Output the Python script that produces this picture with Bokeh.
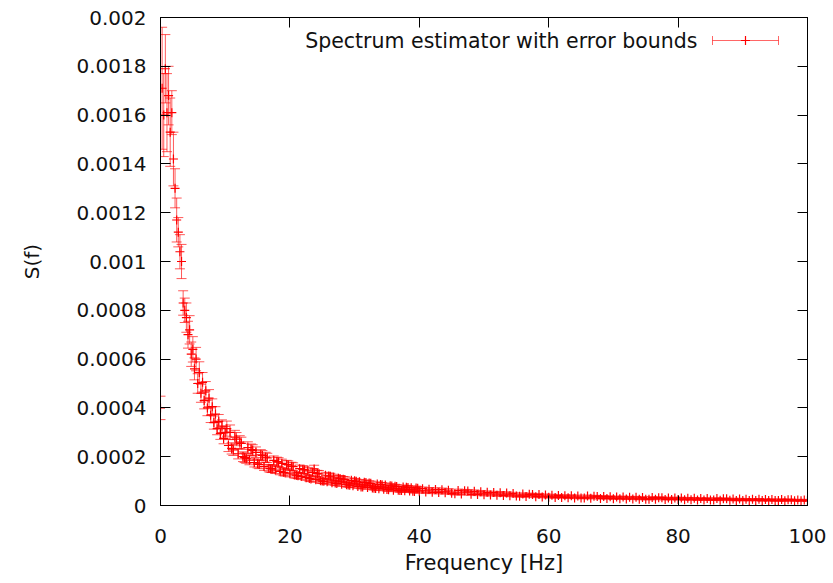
from bokeh.plotting import figure
from bokeh.models import (ColumnDataSource, Whisker, TeeHead, Range1d, FixedTicker,
                          LinearAxis, Label, Arrow)
from bokeh.embed import file_html
from bokeh.resources import INLINE

FONT = "DejaVu Sans"

# Frequency [Hz]
freq = [0, 0.25, 0.5, 0.75, 1, 1.25, 1.5, 1.75, 2, 2.25,
        2.5, 2.75, 3, 3.25, 3.5, 3.75, 4, 4.25, 4.5, 4.75,
        5, 5.25, 5.5, 5.75, 6, 6.25, 6.5, 6.75, 7, 7.25,
        7.5, 7.75, 8, 8.25, 8.5, 8.75, 9, 9.25, 9.5, 9.75, 10,
        10.25, 10.5, 10.75, 11, 11.25, 11.5, 11.75, 12,
        12.25, 12.5, 12.75, 13, 13.25, 13.5, 13.75, 14,
        14.25, 14.5, 14.75, 15, 15.25, 15.5, 15.75, 16,
        16.25, 16.5, 16.75, 17, 17.25, 17.5, 17.75, 18,
        18.25, 18.5, 18.75, 19, 19.25, 19.5, 19.75, 20,
        20.25, 20.5, 20.75, 21, 21.25, 21.5, 21.75, 22,
        22.25, 22.5, 22.75, 23, 23.25, 23.5, 23.75, 24,
        24.25, 24.5, 24.75, 25, 25.25, 25.5, 25.75, 26,
        26.25, 26.5, 26.75, 27, 27.25, 27.5, 27.75, 28,
        28.25, 28.5, 28.75, 29, 29.25, 29.5, 29.75, 30,
        30.25, 30.5, 30.75, 31, 31.25, 31.5, 31.75, 32,
        32.25, 32.5, 32.75, 33, 33.25, 33.5, 33.75, 34,
        34.25, 34.5, 34.75, 35, 35.25, 35.5, 35.75, 36,
        36.25, 36.5, 36.75, 37, 37.25, 37.5, 37.75, 38,
        38.25, 38.5, 38.75, 39, 39.25, 39.5, 39.75, 40,
        40.5, 41, 41.5, 42, 42.5, 43, 43.5, 44, 44.5, 45,
        45.5, 46, 46.5, 47, 47.5, 48, 48.5, 49, 49.5, 50,
        50.5, 51, 51.5, 52, 52.5, 53, 53.5, 54, 54.5, 55,
        55.5, 56, 56.5, 57, 57.5, 58, 58.5, 59, 59.5, 60,
        60.5, 61, 61.5, 62, 62.5, 63, 63.5, 64, 64.5, 65,
        65.5, 66, 66.5, 67, 67.5, 68, 68.5, 69, 69.5, 70,
        70.5, 71, 71.5, 72, 72.5, 73, 73.5, 74, 74.5, 75,
        75.5, 76, 76.5, 77, 77.5, 78, 78.5, 79, 79.5, 80,
        80.5, 81, 81.5, 82, 82.5, 83, 83.5, 84, 84.5, 85,
        85.5, 86, 86.5, 87, 87.5, 88, 88.5, 89, 89.5, 90,
        90.5, 91, 91.5, 92, 92.5, 93, 93.5, 94, 94.5, 95,
        95.5, 96, 96.5, 97, 97.5, 98, 98.5, 99, 99.5, 100]

# Spectrum estimate S(f), in units of 1e-6
spectrum_micro = [400, 1710, 1600, 1790, 1610, 1680, 1530, 1610, 1420, 1300,
                  1170, 1120, 1040, 1000, 830, 800, 770, 700, 720, 620,
                  640, 560, 600, 500, 545, 460, 505, 430, 470, 400,
                  440, 370, 405, 340, 375, 315, 345, 295, 325, 275, 300,
                  315, 246, 300, 234, 228, 280, 272, 212,
                  260, 255, 200, 196, 192, 237, 186, 229,
                  226, 176, 218, 171, 168, 208, 205, 160,
                  198, 195, 153, 151, 150, 185, 145, 180,
                  178, 140, 173, 136, 134, 168, 166, 130,
                  161, 159, 125, 124, 122, 151, 119, 148,
                  146, 114, 142, 111, 109, 136, 150, 106,
                  131, 130, 101, 100, 99, 124, 97, 121,
                  120, 93, 116, 92, 90, 112, 111, 87,
                  108, 107, 85, 84, 83, 103, 81, 101,
                  99, 78, 97, 76, 76, 95, 94, 74,
                  92, 91, 72, 71, 70, 88, 69, 86,
                  85, 67, 84, 66, 65, 81, 80, 63,
                  79, 78, 62, 61, 61, 76, 60, 75,
                  74, 59, 73, 58, 57, 72, 71, 56,
                  69, 55, 67, 54, 66, 53, 65, 52, 63, 50,
                  48, 61, 47, 60, 59, 46, 58, 45, 56, 44,
                  54, 43, 53, 42, 52, 41, 51, 40, 49, 39,
                  38, 47, 37, 46, 45, 36, 45, 35, 43, 34,
                  42, 33, 41, 33, 40, 32, 40, 31, 39, 31,
                  31, 39, 30, 38, 37, 29, 37, 29, 36, 28,
                  35, 28, 35, 27, 34, 27, 34, 26, 33, 26,
                  26, 33, 26, 32, 32, 25, 31, 25, 31, 25,
                  31, 24, 30, 24, 30, 23, 29, 23, 29, 23,
                  23, 29, 22, 28, 28, 22, 27, 21, 27, 21,
                  26, 21, 26, 21, 26, 20, 25, 20, 25, 20,
                  20, 25, 19, 24, 24, 19, 23, 19, 23, 19]

# Error bound half-widths, in units of 1e-6
error_micro = [48, 250, 170, 140, 160, 120, 140, 90, 110, 80,
               90, 60, 70, 70, 50, 50, 60, 55, 58, 50,
               52, 45, 48, 40, 44, 37, 40, 34, 38, 32,
               35, 30, 32, 27, 30, 25, 28, 24, 26, 22, 24,
               31, 25, 30, 23, 23, 28, 27, 21,
               26, 25, 20, 20, 19, 24, 19, 23,
               23, 18, 22, 17, 17, 21, 20, 16,
               20, 19, 15, 15, 15, 18, 14, 18,
               18, 14, 17, 14, 13, 17, 17, 13,
               16, 16, 12, 12, 12, 15, 12, 15,
               15, 11, 14, 11, 11, 14, 15, 11,
               13, 13, 10, 10, 10, 12, 10, 12,
               12, 9, 12, 9, 9, 11, 11, 9,
               11, 11, 8.5, 8.4, 8.3, 10, 8.1, 10,
               9.9, 7.8, 9.7, 7.6, 7.6, 9.5, 9.4, 7.4,
               9.2, 9.1, 7.2, 7.1, 7.0, 8.8, 6.9, 8.6,
               8.5, 6.7, 8.4, 6.6, 6.5, 8.1, 8.0, 6.3,
               7.9, 7.8, 6.2, 6.1, 6.1, 7.6, 6.0, 7.5,
               7.4, 5.9, 7.3, 5.8, 5.7, 7.2, 7.1, 5.6,
               6.9, 5.5, 6.7, 5.4, 6.6, 5.3, 6.5, 5.2, 6.3, 5.0,
               4.8, 6.1, 4.7, 6.0, 5.9, 4.6, 5.8, 4.5, 5.6, 4.4,
               5.4, 4.3, 5.3, 4.2, 5.2, 4.1, 5.1, 4.0, 4.9, 3.9,
               3.8, 4.7, 3.7, 4.6, 4.5, 3.6, 4.5, 3.5, 4.3, 3.4,
               4.2, 3.3, 4.1, 3.3, 4.0, 3.2, 4.0, 3.1, 3.9, 3.1,
               3.1, 3.9, 3.0, 3.8, 3.7, 2.9, 3.7, 2.9, 3.6, 2.8,
               3.5, 2.8, 3.5, 2.7, 3.4, 2.7, 3.4, 2.6, 3.3, 2.6,
               2.6, 3.3, 2.6, 3.2, 3.2, 2.5, 3.1, 2.5, 3.1, 2.5,
               3.1, 2.4, 3.0, 2.4, 3.0, 2.3, 2.9, 2.3, 2.9, 2.3,
               2.3, 2.9, 2.2, 2.8, 2.8, 2.2, 2.7, 2.1, 2.7, 2.1,
               2.6, 2.1, 2.6, 2.1, 2.6, 2.0, 2.5, 2.0, 2.5, 2.0,
               2.0, 2.5, 1.9, 2.4, 2.4, 1.9, 2.3, 1.9, 2.3, 1.9]

x_ticks = [0, 20, 40, 60, 80, 100]
y_ticks = [0, 0.0002, 0.0004, 0.0006, 0.0008, 0.001,
           0.0012, 0.0014, 0.0016, 0.0018, 0.002]
y_tick_labels = ["0", "0.0002", "0.0004", "0.0006", "0.0008", "0.001",
                 "0.0012", "0.0014", "0.0016", "0.0018", "0.002"]

legend_text = "Spectrum estimator with error bounds"
x_title = "Frequency [Hz]"
y_title = "S(f)"

spec = [v * 1e-6 for v in spectrum_micro]
err = [e * 1e-6 for e in error_micro]
src = ColumnDataSource(dict(
    f=freq, s=spec,
    lo=[s - e for s, e in zip(spec, err)],
    hi=[s + e for s, e in zip(spec, err)],
))

p = figure(width=833, height=583, x_range=Range1d(0, 100), y_range=Range1d(0, 0.002),
           output_backend="svg", toolbar_location=None,
           min_border_left=160, min_border_right=26, min_border_top=17, min_border_bottom=78)
p.background_fill_color = "white"
p.border_fill_color = "white"
p.outline_line_color = "black"
p.outline_line_width = 1
p.xgrid.visible = False
p.ygrid.visible = False

RED = "#ff0000"
whisk = Whisker(source=src, base="f", upper="hi", lower="lo", dimension="height",
                line_color=RED, line_alpha=0.65, line_width=1,
                upper_head=TeeHead(size=10, line_color=RED, line_alpha=0.65, line_width=1),
                lower_head=TeeHead(size=10, line_color=RED, line_alpha=0.65, line_width=1))
p.add_layout(whisk)
p.scatter("f", "s", source=src, marker="cross", size=9, line_color=RED, line_width=1.2)


def style_axis(ax, ticks, show_labels):
    ax.ticker = FixedTicker(ticks=ticks)
    ax.axis_line_color = "black"
    ax.axis_line_width = 1
    ax.major_tick_line_color = "black"
    ax.major_tick_line_width = 1
    ax.major_tick_in = 10
    ax.major_tick_out = 0
    ax.minor_tick_line_color = None
    ax.major_label_text_font = FONT
    if show_labels:
        ax.major_label_text_font_size = "20px"
        ax.major_label_text_color = "#111111"
    else:
        ax.major_label_text_font_size = "2px"
        ax.major_label_text_color = None
        ax.major_label_standoff = 0


xa = p.xaxis[0]
style_axis(xa, x_ticks, True)
xa.major_label_standoff = 23
xa.axis_label = x_title
xa.axis_label_text_font = FONT
xa.axis_label_text_font_size = "21px"
xa.axis_label_text_font_style = "normal"
xa.axis_label_text_color = "#111111"
xa.axis_label_standoff = 5

ya = p.yaxis[0]
style_axis(ya, y_ticks, True)
ya.major_label_standoff = 14
ya.major_label_overrides = {t: l for t, l in zip(y_ticks, y_tick_labels)}
ya.axis_label = y_title
ya.axis_label_text_font = FONT
ya.axis_label_text_font_size = "20px"
ya.axis_label_text_font_style = "normal"
ya.axis_label_text_color = "#111111"
ya.axis_label_standoff = 30

top_ax = LinearAxis()
style_axis(top_ax, x_ticks, False)
p.add_layout(top_ax, "above")
right_ax = LinearAxis()
style_axis(right_ax, y_ticks, False)
p.add_layout(right_ax, "right")

# legend (gnuplot style: text left, sample right)
p.add_layout(Label(x=537, y=465, x_units="screen", y_units="screen", text=legend_text,
                   text_align="right", text_baseline="middle", text_font=FONT,
                   text_font_size="20.5px", text_color="#111111"))
p.add_layout(Arrow(x_start=552, y_start=465, x_end=618, y_end=465,
                   start_units="screen", end_units="screen",
                   line_color=RED, line_alpha=0.6, line_width=1,
                   start=TeeHead(size=9, line_color=RED, line_alpha=0.6, line_width=1),
                   end=TeeHead(size=9, line_color=RED, line_alpha=0.6, line_width=1)))
p.add_layout(Arrow(x_start=585, y_start=460.5, x_end=585, y_end=469.5,
                   start_units="screen", end_units="screen",
                   line_color=RED, line_width=1.2, start=None, end=None))
p.add_layout(Arrow(x_start=580.5, y_start=465, x_end=589.5, y_end=465,
                   start_units="screen", end_units="screen",
                   line_color=RED, line_width=1.2, start=None, end=None))

open("out.html", "w").write(file_html(p, INLINE))
